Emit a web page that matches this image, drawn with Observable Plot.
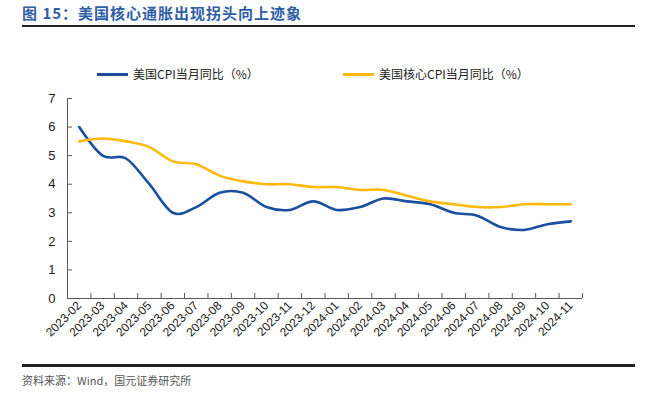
<!DOCTYPE html>
<html><head><meta charset="utf-8">
<script src="https://cdn.jsdelivr.net/npm/d3@7"></script>
<script src="https://cdn.jsdelivr.net/npm/@observablehq/plot@0.6"></script>
<style>
body{margin:0;background:#fff;width:657px;height:395px;position:relative;overflow:hidden;font-family:"Liberation Sans",Arial,sans-serif}
#title{position:absolute;left:22px;top:4px;font:bold 15px "Noto Sans CJK SC";color:#2F5DA6;letter-spacing:1px;white-space:nowrap;line-height:18px}
#rule1{position:absolute;left:22px;top:25px;width:613px;height:2px;background:#222}
#legend{position:absolute;top:66px;left:0;width:657px;height:16px;font:12px "Noto Sans CJK SC";color:#222}
.item{position:absolute;top:0;display:flex;align-items:center;white-space:nowrap;line-height:16px}
.sw{width:31px;height:3px;margin-right:5px}
#chart{position:absolute;left:0;top:88px}
#rule2{position:absolute;left:22px;top:364px;width:613px;height:3px;background:#222}
#source{position:absolute;left:22px;top:372px;font:11px "Noto Sans CJK SC";color:#555;white-space:nowrap}
</style></head>
<body>
<div id="title">图 15：美国核心通胀出现拐头向上迹象</div>
<div id="rule1"></div>
<div id="legend"></div>
<div id="chart"></div>
<div id="rule2"></div>
<div id="source">资料来源：Wind，国元证券研究所</div>
<script>
const months = ["2023-02","2023-03","2023-04","2023-05","2023-06","2023-07","2023-08","2023-09","2023-10","2023-11","2023-12","2024-01","2024-02","2024-03","2024-04","2024-05","2024-06","2024-07","2024-08","2024-09","2024-10","2024-11"];
const cpi  = [6.0,5.0,4.9,4.0,3.0,3.2,3.7,3.7,3.2,3.1,3.4,3.1,3.2,3.5,3.4,3.3,3.0,2.9,2.5,2.4,2.6,2.7];
const core = [5.5,5.6,5.5,5.3,4.8,4.7,4.3,4.1,4.0,4.0,3.9,3.9,3.8,3.8,3.6,3.4,3.3,3.2,3.2,3.3,3.3,3.3];
const series = ["美国CPI当月同比（%）","美国核心CPI当月同比（%）"];
const colors = ["#1A4FA0","#FFB80C"];
const yTicks = [0,1,2,3,4,5,6,7];

const data = months.flatMap((m,i)=>[
  {month:m, value:cpi[i], s:series[0]},
  {month:m, value:core[i], s:series[1]}
]);

// legend
const legendX = [97, 343];
const lg = document.getElementById("legend");
series.forEach((s,i)=>{
  const it = document.createElement("div");
  it.className="item"; it.style.left = legendX[i]+"px";
  it.innerHTML = `<span class="sw" style="background:${colors[i]}"></span><span>${s}</span>`;
  lg.appendChild(it);
});

const W=657,H=277,ML=67,MR=75,MT=10,MB=67;
const step=(W-ML-MR)/months.length;
const axisColor="#595959";

const chart = Plot.plot({
  width:W, height:H, marginLeft:ML, marginRight:MR, marginTop:MT, marginBottom:MB,
  style:{fontFamily:"Liberation Sans, Arial, sans-serif", fontSize:"13px", color:"#222", background:"#fff"},
  x:{type:"point", domain:months, padding:0.5, round:false},
  y:{domain:[0,7]},
  color:{domain:series, range:colors},
  marks:[
    Plot.axisY(yTicks, {tickSize:-5, tickPadding:17, stroke:axisColor, fill:"#222", fontSize:13, label:null}),
    Plot.axisX({tickSize:0, tickRotate:-45, tickPadding:5, fontSize:12, fill:"#222", label:null}),
    Plot.axisX(months, {tickSize:-5, tickFormat:()=>"", dx:step/2, stroke:axisColor, label:null}),
    Plot.frame({anchor:"left", stroke:axisColor}),
    Plot.ruleY([0], {stroke:axisColor}),
    Plot.line(data, {x:"month", y:"value", z:"s", stroke:"s", strokeWidth:2.6, curve:"cardinal"})
  ]
});
document.getElementById("chart").appendChild(chart);
</script>
</body></html>
